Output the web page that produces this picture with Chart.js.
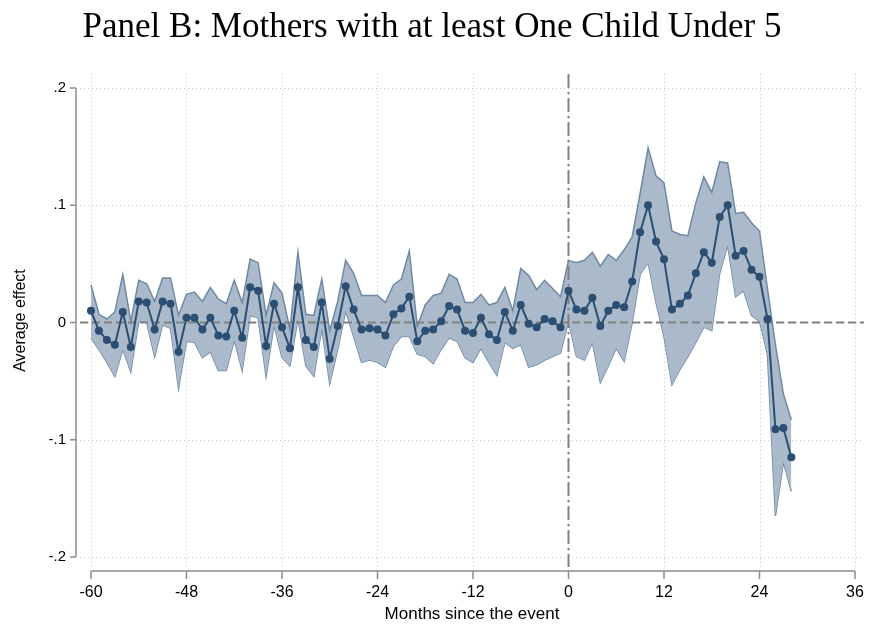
<!DOCTYPE html>
<html>
<head>
<meta charset="utf-8">
<title>Panel B</title>
<script src="https://cdn.jsdelivr.net/npm/chart.js@4.4.0/dist/chart.umd.min.js"></script>
<style>
  html, body { margin: 0; padding: 0; background: #ffffff; }
</style>
</head>
<body>
<canvas id="event-chart" width="869" height="628"></canvas>
<script>
// months relative to the event
const months = [
  -60, -59, -58, -57, -56, -55, -54, -53, -52, -51, -50, -49, -48, -47, -46, -45,
  -44, -43, -42, -41, -40, -39, -38, -37, -36, -35, -34, -33, -32, -31, -30, -29,
  -28, -27, -26, -25, -24, -23, -22, -21, -20, -19, -18, -17, -16, -15, -14, -13,
  -12, -11, -10, -9, -8, -7, -6, -5, -4, -3, -2, -1, 0, 1, 2, 3,
  4, 5, 6, 7, 8, 9, 10, 11, 12, 13, 14, 15, 16, 17, 18, 19,
  20, 21, 22, 23, 24, 25, 26, 27, 28,
];

// point estimates
const estimate = [
  0.010, -0.007, -0.015, -0.019, 0.009, -0.021, 0.018, 0.017, -0.006, 0.018, 0.016, -0.025, 0.004, 0.004, -0.006, 0.004,
  -0.011, -0.012, 0.010, -0.013, 0.030, 0.027, -0.020, 0.016, -0.004, -0.022, 0.030, -0.015, -0.021, 0.017, -0.031, -0.003,
  0.031, 0.011, -0.006, -0.005, -0.006, -0.011, 0.007, 0.012, 0.022, -0.016, -0.007, -0.006, 0.001, 0.014, 0.011, -0.007,
  -0.009, 0.004, -0.010, -0.015, 0.009, -0.007, 0.015, -0.001, -0.004, 0.003, 0.001, -0.004, 0.027, 0.011, 0.010, 0.021,
  -0.003, 0.010, 0.015, 0.013, 0.035, 0.077, 0.100, 0.069, 0.054, 0.011, 0.016, 0.023, 0.042, 0.060, 0.051, 0.090,
  0.100, 0.057, 0.061, 0.045, 0.039, 0.003, -0.091, -0.090, -0.115,
];

// upper bound of the confidence interval
const upperCI = [
  0.032, 0.007, 0.003, 0.009, 0.041, 0.001, 0.036, 0.033, 0.018, 0.038, 0.038, 0.006, 0.024, 0.026, 0.018, 0.030,
  0.020, 0.016, 0.036, 0.017, 0.054, 0.051, 0.006, 0.034, 0.025, -0.006, 0.060, 0.007, 0.006, 0.037, -0.007, 0.018,
  0.053, 0.042, 0.023, 0.023, 0.023, 0.017, 0.032, 0.037, 0.061, -0.003, 0.015, 0.023, 0.025, 0.041, 0.037, 0.017,
  0.017, 0.024, 0.015, 0.017, 0.030, 0.010, 0.046, 0.040, 0.028, 0.036, 0.029, 0.022, 0.053, 0.051, 0.053, 0.060,
  0.048, 0.058, 0.053, 0.062, 0.073, 0.110, 0.149, 0.125, 0.119, 0.078, 0.075, 0.074, 0.102, 0.124, 0.111, 0.137,
  0.136, 0.093, 0.094, 0.085, 0.078, 0.029, -0.019, -0.061, -0.083,
];

// lower bound of the confidence interval
const lowerCI = [
  -0.013, -0.023, -0.034, -0.046, -0.023, -0.042, 0.001, 0.000, -0.029, -0.002, -0.005, -0.056, -0.016, -0.017, -0.030, -0.025,
  -0.041, -0.041, -0.015, -0.041, 0.006, 0.004, -0.046, -0.002, -0.030, -0.037, 0.003, -0.037, -0.046, -0.005, -0.052, -0.023,
  0.010, -0.012, -0.034, -0.032, -0.034, -0.038, -0.020, -0.012, -0.012, -0.027, -0.029, -0.035, -0.023, -0.013, -0.016, -0.030,
  -0.034, -0.022, -0.034, -0.045, -0.017, -0.022, -0.019, -0.038, -0.036, -0.032, -0.029, -0.026, 0.001, -0.029, -0.032, -0.017,
  -0.051, -0.037, -0.022, -0.033, 0.000, 0.041, 0.051, 0.017, -0.012, -0.053, -0.040, -0.029, -0.017, -0.004, -0.007, 0.042,
  0.066, 0.022, 0.027, 0.006, 0.001, -0.027, -0.165, -0.119, -0.144,
];

const xTicks = [-60, -48, -36, -24, -12, 0, 12, 24, 36];
const yTicks = [-0.2, -0.1, 0, 0.1, 0.2];
const yTickLabels = ["-.2", "-.1", "0", ".1", ".2"];

const lineColor = "#2b4e72";
const edgeColor = "#6f89a4";
const bandFill = "rgba(170, 186, 203, 1)";
const axisColor = "#8c8c8c";
const sans = "'Liberation Sans', Arial, sans-serif";

const toPoints = (vals) => months.map((m, i) => ({ x: m, y: vals[i] }));

// dotted grid, zero reference lines and the detached axes
const stataFrame = {
  id: "stataFrame",
  beforeDatasetsDraw(chart) {
    const { ctx, chartArea: a, scales } = chart;
    ctx.save();
    ctx.strokeStyle = "#c4c4c4";
    ctx.lineWidth = 1;
    ctx.setLineDash([1, 3]);
    xTicks.forEach((v) => {
      const px = Math.round(scales.x.getPixelForValue(v)) + 0.5;
      ctx.beginPath();
      ctx.moveTo(px, a.top);
      ctx.lineTo(px, a.bottom);
      ctx.stroke();
    });
    yTicks.forEach((v) => {
      const py = Math.round(scales.y.getPixelForValue(v)) + 0.5;
      ctx.beginPath();
      ctx.moveTo(a.left, py);
      ctx.lineTo(a.right, py);
      ctx.stroke();
    });
    ctx.restore();
  },
  beforeDatasetDraw(chart, args) {
    if (args.index !== 0) return;
    const { ctx, chartArea: a, scales } = chart;
    const x0 = scales.x.getPixelForValue(0);
    const y0 = scales.y.getPixelForValue(0);
    ctx.save();
    ctx.strokeStyle = "#808080";
    ctx.lineWidth = 2;
    ctx.setLineDash([8, 4]);
    ctx.beginPath();
    ctx.moveTo(a.left, y0);
    ctx.lineTo(a.right, y0);
    ctx.stroke();
    ctx.setLineDash([14, 4, 2, 4]);
    ctx.beginPath();
    ctx.moveTo(x0, a.top);
    ctx.lineTo(x0, a.bottom);
    ctx.stroke();
    ctx.restore();
  },
  afterDraw(chart) {
    const { ctx, chartArea: a, scales } = chart;
    const ax = a.left - 4;
    const ay = a.bottom + 4;
    ctx.save();
    ctx.strokeStyle = axisColor;
    ctx.lineWidth = 1.5;
    ctx.beginPath();
    ctx.moveTo(ax, scales.y.getPixelForValue(0.2));
    ctx.lineTo(ax, scales.y.getPixelForValue(-0.2));
    yTicks.forEach((v) => {
      const py = scales.y.getPixelForValue(v);
      ctx.moveTo(ax - 6, py);
      ctx.lineTo(ax, py);
    });
    ctx.moveTo(scales.x.getPixelForValue(-60), ay);
    ctx.lineTo(scales.x.getPixelForValue(36), ay);
    xTicks.forEach((v) => {
      const px = scales.x.getPixelForValue(v);
      ctx.moveTo(px, ay);
      ctx.lineTo(px, ay + 8);
    });
    ctx.stroke();
    ctx.restore();
  },
};

const canvas = document.querySelector("#event-chart");

const eventChart = new Chart(canvas, {
  type: "line",
  data: {
    datasets: [
      {
        label: "Average effect",
        data: toPoints(estimate),
        borderColor: lineColor,
        backgroundColor: lineColor,
        borderWidth: 2,
        pointRadius: 4,
        pointHoverRadius: 4,
        pointBorderWidth: 0,
        fill: false,
      },
      {
        label: "Upper bound",
        data: toPoints(upperCI),
        borderColor: edgeColor,
        backgroundColor: bandFill,
        borderWidth: 1.5,
        pointRadius: 0,
        fill: "+1",
      },
      {
        label: "Lower bound",
        data: toPoints(lowerCI),
        borderColor: edgeColor,
        borderWidth: 1.5,
        pointRadius: 0,
        fill: false,
      },
    ],
  },
  options: {
    responsive: false,
    animation: false,
    devicePixelRatio: 1,
    layout: { padding: { top: 0, right: 5, bottom: 0, left: 0 } },
    plugins: {
      legend: { display: false },
      tooltip: { enabled: false },
      title: {
        display: true,
        text: "Panel B: Mothers with at least One Child Under 5",
        color: "#000000",
        font: { family: "'Liberation Serif', 'Times New Roman', serif", size: 35, weight: "normal" },
        padding: { top: 7, bottom: 25 },
      },
    },
    scales: {
      x: {
        type: "linear",
        min: -61.38,
        max: 37.13,
        afterBuildTicks: (scale) => {
          scale.ticks = xTicks.map((v) => ({ value: v }));
        },
        afterFit: (scale) => {
          scale.height = 61;
          scale.paddingLeft = 0;
          scale.paddingRight = 0;
        },
        grid: { display: false },
        border: { display: false },
        ticks: {
          autoSkip: false,
          maxRotation: 0,
          padding: 8,
          color: "#000000",
          font: { family: sans, size: 16 },
          callback: (v) => String(v),
        },
        title: {
          display: true,
          text: "Months since the event",
          color: "#000000",
          font: { family: sans, size: 17 },
          padding: { top: 0, bottom: 3 },
        },
      },
      y: {
        type: "linear",
        min: -0.2085,
        max: 0.2119,
        afterBuildTicks: (scale) => {
          scale.ticks = yTicks.map((v) => ({ value: v }));
        },
        afterFit: (scale) => {
          scale.width = 80;
          scale.paddingTop = 0;
          scale.paddingBottom = 0;
        },
        grid: { display: false },
        border: { display: false },
        ticks: {
          autoSkip: false,
          padding: 6,
          color: "#000000",
          font: { family: sans, size: 15 },
          callback: (v) => yTickLabels[yTicks.indexOf(v)],
        },
        title: {
          display: true,
          text: "Average effect",
          color: "#000000",
          font: { family: sans, size: 16 },
          padding: { top: 11, bottom: 0 },
        },
      },
    },
  },
  plugins: [stataFrame],
});
</script>
</body>
</html>
